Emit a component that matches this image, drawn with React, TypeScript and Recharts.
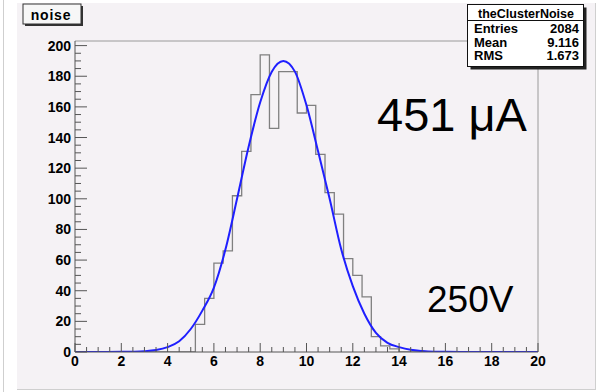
import React from 'react';
import { ComposedChart, Line, XAxis, YAxis, ReferenceLine } from 'recharts';

// noise histogram: 50 bins of width 0.4 between 0 and 20
const BIN_WIDTH = 0.4;
const binCounts = [
  0, 0, 0, 0, 0, 0, 0, 0, 0, 0,
  0, 0, 0, 18, 35, 58, 66, 102, 131, 168,
  194, 146, 183, 183, 156, 161, 129, 104, 90, 61,
  50, 36, 10, 4, 2, 0, 0, 0, 0, 0,
  0, 0, 0, 0, 0, 0, 0, 0, 0, 0,
];

// gaussian fit, sampled along x
const fitX = [0, 1, 2, 2.5, 3, 3.5, 4, 4.5, 5, 5.5, 6, 6.5, 7, 7.5, 8, 8.5, 9, 9.5, 10, 10.5, 11, 11.5, 12, 12.5, 13, 13.5, 14, 14.5, 15, 15.5, 16, 17, 18, 19, 20];
const fitY = [0, 0, 0.1, 0.2, 0.5, 1.3, 3.2, 7, 15, 27, 42, 67, 100, 134, 163, 183, 190, 183, 161, 131, 100, 67, 43, 25, 12.5, 6, 3.2, 1.4, 0.6, 0.2, 0.1, 0, 0, 0, 0];

const xLabels = [0, 2, 4, 6, 8, 10, 12, 14, 16, 18, 20];
const yLabels = [0, 20, 40, 60, 80, 100, 120, 140, 160, 180, 200];
const Y_MAX = 203;

const statsRows = [
  ['Entries', '2084'],
  ['Mean', '9.116'],
  ['RMS', '1.673'],
];

const histData = binCounts.map((c, i) => ({ x: +(i * BIN_WIDTH).toFixed(1), h: c }));
histData.push({ x: 20, h: binCounts[binCounts.length - 1] });
const fitData = fitX.map((x, i) => ({ x, f: fitY[i] }));

const xMinor = Array.from({ length: 41 }, (_, i) => i * 0.5);
const yMinor = Array.from({ length: 41 }, (_, i) => i * 5);

const FONT = '"Liberation Sans", Arial, Helvetica, sans-serif';
const AXIS = '#555';

const XTick = (props: any) => {
  const { x, y, payload } = props;
  const major = xLabels.includes(payload.value);
  return (
    <g>
      <line x1={x} x2={x} y1={y} y2={y - (major ? 9 : 5)} stroke={AXIS} strokeWidth={1} />
      {major && (
        <text x={x} y={y + 14} textAnchor="middle" fontFamily={FONT} fontWeight="bold" fontSize={14} fill="#000">
          {payload.value}
        </text>
      )}
    </g>
  );
};

const YTick = (props: any) => {
  const { x, y, payload } = props;
  const major = yLabels.includes(payload.value);
  return (
    <g>
      <line x1={x} x2={x + (major ? 12 : 6)} y1={y} y2={y} stroke={AXIS} strokeWidth={1} />
      {major && (
        <text x={x - 4} y={y + 5} textAnchor="end" fontFamily={FONT} fontWeight="bold" fontSize={14} fill="#000">
          {payload.value}
        </text>
      )}
    </g>
  );
};

const Overlay = () => (
  <svg width={598} height={392} style={{ position: 'absolute', left: 0, top: 0 }}>
    {/* title box */}
    <rect x={25} y={6} width={58} height={20} fill="#333" />
    <rect x={23} y={4} width={58} height={20} fill="#f7f7f7" stroke="#333" strokeWidth={1} />
    <text x={51} y={20} textAnchor="middle" fontFamily={FONT} fontWeight="bold" fontSize={14} letterSpacing={0.8}>noise</text>

    {/* stats box */}
    <rect x={470.5} y={7.5} width={116} height={62} fill="#222" />
    <rect x={467.5} y={4.5} width={116} height={62} fill="#fff" stroke="#111" strokeWidth={1} />
    <line x1={467.5} x2={583.5} y1={20.5} y2={20.5} stroke="#111" />
    <text x={526} y={18} textAnchor="middle" fontFamily={FONT} fontWeight="bold" fontSize={12.5}>theClusterNoise</text>
    {statsRows.map(([k, v], i) => (
      <g key={k}>
        <text x={474} y={33 + i * 13.5} fontFamily={FONT} fontWeight="bold" fontSize={13}>{k}</text>
        <text x={579} y={33 + i * 13.5} textAnchor="end" fontFamily={FONT} fontWeight="bold" fontSize={13}>{v}</text>
      </g>
    ))}

    <text x={377} y={131} fontFamily={FONT} fontSize={47} fill="#000">451 μA</text>
    <text x={427} y={312} fontFamily={FONT} fontSize={37} fill="#000">250V</text>
  </svg>
);

export default function App() {
  return (
    <div style={{ position: 'absolute', left: 0, top: 0, width: 598, height: 392, background: '#fff', overflow: 'hidden', fontFamily: FONT }}>
      <div style={{ position: 'absolute', left: 3, top: 0, width: 1, height: 392, background: '#cfcfcf' }} />
      <div style={{ position: 'absolute', left: 17, top: 3, width: 578, height: 386, background: '#f5f2f5', borderRight: '1px solid #cfcfcf', borderBottom: '1px solid #cfcfcf' }} />
      <div style={{ position: 'absolute', left: 0, top: 0 }}>
        <ComposedChart width={598} height={392} margin={{ top: 41, right: 60, bottom: 0, left: 0 }}>
          <XAxis
            type="number"
            dataKey="x"
            domain={[0, 20]}
            ticks={xMinor}
            interval={0}
            height={40}
            tickSize={0}
            tickMargin={0}
            tickLine={false}
            axisLine={{ stroke: AXIS }}
            tick={<XTick />}
            allowDataOverflow
          />
          <YAxis
            type="number"
            domain={[0, Y_MAX]}
            ticks={yMinor}
            interval={0}
            width={75}
            tickSize={0}
            tickMargin={0}
            tickLine={false}
            axisLine={{ stroke: AXIS }}
            tick={<YTick />}
            allowDataOverflow
          />
          <ReferenceLine y={Y_MAX} stroke="#9a9a9a" />
          <ReferenceLine x={20} stroke="#9a9a9a" />
          <Line
            data={histData}
            dataKey="h"
            type="stepAfter"
            stroke="#808080"
            strokeWidth={1.3}
            dot={false}
            isAnimationActive={false}
          />
          <Line
            data={fitData}
            dataKey="f"
            type="monotone"
            stroke="#1f1fff"
            strokeWidth={2}
            dot={false}
            isAnimationActive={false}
          />
        </ComposedChart>
      </div>
      <Overlay />
    </div>
  );
}
